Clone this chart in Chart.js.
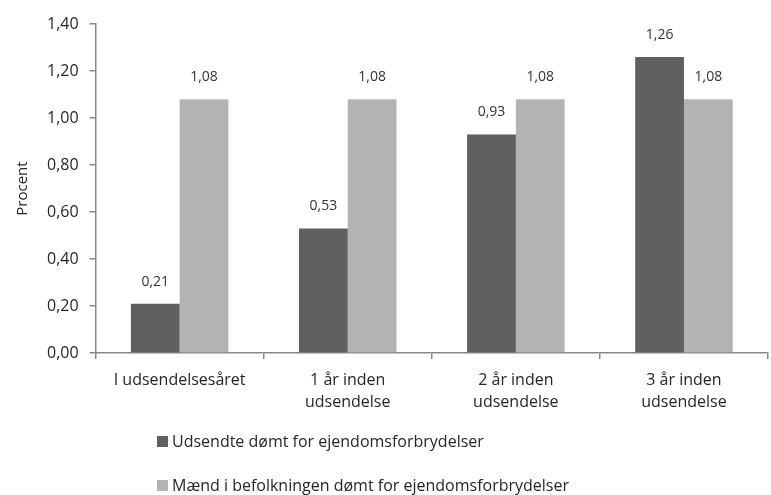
<!DOCTYPE html>
<html>
<head>
<meta charset="utf-8">
<script src="https://cdn.jsdelivr.net/npm/chart.js@4"></script>
<style>
  body { margin: 0; background: #fff; font-family: "Open Sans", sans-serif; }
  #wrap { position: relative; width: 771px; height: 495px; }
  #legend { position: absolute; left: 157px; top: 428px; font-size: 16px; color: #262626; }
  #legend div { height: 44px; line-height: 26px; display: flex; align-items: flex-start; }
  #legend span.box { display: inline-block; width: 11px; height: 11px; margin: 8px 4px 0 0; }
</style>
</head>
<body>
<div id="wrap">
  <canvas id="myChart" width="771" height="430"></canvas>
  <div id="legend"></div>
</div>
<script>
const categories = [['I udsendelsesåret'], ['1 år inden', 'udsendelse'], ['2 år inden', 'udsendelse'], ['3 år inden', 'udsendelse']];
const seriesNames = ['Udsendte dømt for ejendomsforbrydelser', 'Mænd i befolkningen dømt for ejendomsforbrydelser'];
const udsendte = [0.21, 0.53, 0.93, 1.26];
const maend = [1.08, 1.08, 1.08, 1.08];
const colors = ['#606060', '#b3b3b3'];

const fmt = v => v.toFixed(2).replace('.', ',');

// draws the value above each bar
const valueLabels = {
    id: 'valueLabels',
    afterDatasetsDraw(chart) {
        const ctx = chart.ctx;
        ctx.save();
        ctx.font = '14px "Open Sans"';
        ctx.fillStyle = '#333';
        ctx.textAlign = 'center';
        ctx.textBaseline = 'bottom';
        chart.data.datasets.forEach((ds, i) => {
            chart.getDatasetMeta(i).data.forEach((bar, j) => {
                ctx.fillText(fmt(ds.data[j]), bar.x, bar.y - 15);
            });
        });
        ctx.restore();
    }
};

const myChart = new Chart(document.querySelector('#myChart'), {
    type: 'bar',
    data: {
        labels: categories,
        datasets: [
            { label: seriesNames[0], data: udsendte, backgroundColor: colors[0] },
            { label: seriesNames[1], data: maend, backgroundColor: colors[1] }
        ]
    },
    options: {
        responsive: false,
        animation: false,
        layout: { padding: { top: 24, right: 3, left: 10, bottom: 7 } },
        datasets: { bar: { categoryPercentage: 0.58, barPercentage: 1.0 } },
        plugins: {
            legend: { display: false },
            tooltip: { enabled: false }
        },
        scales: {
            x: {
                grid: { display: true, drawOnChartArea: false, offset: true, tickLength: 6, color: '#888', lineWidth: 1.5 },
                border: { color: '#888', width: 1.5 },
                ticks: { color: '#262626', font: { size: 16, family: 'Open Sans', lineHeight: 1.375 }, padding: 10, maxRotation: 0 }
            },
            y: {
                min: 0,
                max: 1.4,
                grid: { display: true, drawOnChartArea: false, tickLength: 6, color: '#888', lineWidth: 1.5 },
                border: { color: '#888', width: 1.5 },
                ticks: {
                    stepSize: 0.2,
                    color: '#262626',
                    font: { size: 16, family: 'Open Sans' },
                    padding: 11,
                    callback: v => fmt(v)
                },
                title: { display: true, text: 'Procent', color: '#262626', font: { size: 15, family: 'Open Sans' }, padding: { bottom: 4 } }
            }
        }
    },
    plugins: [valueLabels]
});

const legend = document.querySelector('#legend');
myChart.data.datasets.forEach(ds => {
    const row = document.createElement('div');
    row.innerHTML = '<span class="box" style="background:' + ds.backgroundColor + '"></span>' + ds.label;
    legend.appendChild(row);
});
</script>
</body>
</html>
